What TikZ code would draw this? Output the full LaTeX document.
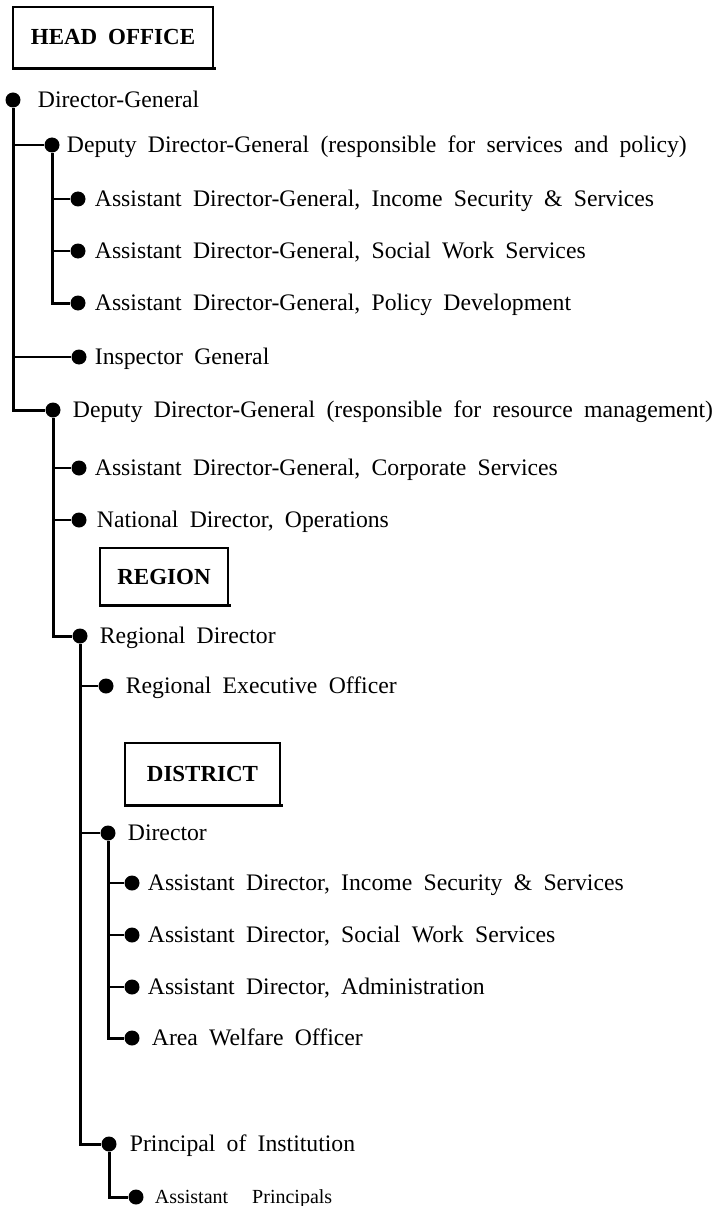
\documentclass[tikz,border=0pt]{standalone}
\usepackage{fontspec}
\setmainfont{Liberation Serif}[WordSpace=1.9]
\usetikzlibrary{positioning}

\begin{document}
\begin{tikzpicture}[x=1pt, y=-1pt,
  every node/.style={inner sep=0pt},
  dot/.style={circle, fill, minimum size=15pt},
  post/.style={anchor=west, font=\fontsize{23.7}{28}\selectfont, text height=15.7pt, text depth=0pt},
  unit/.style={draw, line width=1.4pt, font=\fontsize{23}{27}\selectfont\bfseries},
  unitfoot/.style={line width=2.6pt},
  trunk/.style={line width=3pt},
  branch/.style={line width=2pt}]

\useasboundingbox (0,0) rectangle (727,1206);

% head office
\node[unit, minimum width=200pt, minimum height=61pt] (ho) at (113,37.5) {HEAD OFFICE};
\draw[unitfoot] (ho.south west) -- ([xshift=2pt]ho.south east);

\node[dot] (dg) at (13,100) {};
\node[post, right=17pt of dg] (dgt) {Director-General};

\node[dot] (ddg1) at (52,145) {};
\node[post, right=7pt of ddg1] (ddg1t) {Deputy Director-General (responsible for services and policy)};

\node[dot] (adg1) at (78,199) {};
\node[post, right=9pt of adg1] (adg1t) {Assistant Director-General, Income Security \& Services};
\node[dot] (adg2) at (78,251) {};
\node[post, right=9pt of adg2] (adg2t) {Assistant Director-General, Social Work Services};
\node[dot] (adg3) at (78,303) {};
\node[post, right=9pt of adg3] (adg3t) {Assistant Director-General, Policy Development};

\node[dot] (insp) at (79,357) {};
\node[post, right=8pt of insp] (inspt) {Inspector General};

\node[dot] (ddg2) at (53,410) {};
\node[post, right=12pt of ddg2] (ddg2t) {Deputy Director-General (responsible for resource management)};

\node[dot] (adg4) at (79,468) {};
\node[post, right=8pt of adg4] (adg4t) {Assistant Director-General, Corporate Services};
\node[dot] (natdir) at (79,520) {};
\node[post, right=10pt of natdir] (natdirt) {National Director, Operations};

% region
\node[unit, minimum width=128pt, minimum height=57pt] (reg) at (164,576.5) {REGION};
\draw[unitfoot] (reg.south west) -- ([xshift=2pt]reg.south east);

\node[dot] (regdir) at (80,636) {};
\node[post, right=12pt of regdir] (regdirt) {Regional Director};
\node[dot] (reo) at (106,686) {};
\node[post, right=12pt of reo] (reot) {Regional Executive Officer};

% district
\node[unit, minimum width=155pt, minimum height=62pt] (dist) at (202.5,774) {DISTRICT};
\draw[unitfoot] (dist.south west) -- ([xshift=2pt]dist.south east);

\node[dot] (dir) at (108,833) {};
\node[post, right=12pt of dir] (dirt) {Director};

\node[dot] (ad1) at (132,883) {};
\node[post, right=8pt of ad1] (ad1t) {Assistant Director, Income Security \& Services};
\node[dot] (ad2) at (132,935) {};
\node[post, right=8pt of ad2] (ad2t) {Assistant Director, Social Work Services};
\node[dot] (ad3) at (132,987) {};
\node[post, right=8pt of ad3] (ad3t) {Assistant Director, Administration};
\node[dot] (awo) at (132,1038) {};
\node[post, right=12pt of awo] (awot) {Area Welfare Officer};

\node[dot] (princ) at (109,1144) {};
\node[post, right=13pt of princ] (princt) {Principal of Institution};
\node[dot] (aprinc) at (136,1197) {};
\node[post, font=\fontsize{20}{24}\selectfont, text height=13.2pt, right=11pt of aprinc] (aprinct) {Assistant\hskip 1.2em Principals};

% lines
\draw[trunk] (dg) |- (ddg2);
\draw[branch] (dg |- ddg1) -- (ddg1);
\draw[branch] (dg |- insp) -- (insp);

\draw[trunk] (ddg1) |- (adg3);
\draw[branch] (ddg1 |- adg1) -- (adg1);
\draw[branch] (ddg1 |- adg2) -- (adg2);

\draw[trunk] (ddg2) |- (regdir);
\draw[branch] (ddg2 |- adg4) -- (adg4);
\draw[branch] (ddg2 |- natdir) -- (natdir);

\draw[trunk] (regdir) |- (princ);
\draw[branch] (regdir |- reo) -- (reo);
\draw[branch] (regdir |- dir) -- (dir);

\draw[trunk] (dir) |- (awo);
\draw[branch] (dir |- ad1) -- (ad1);
\draw[branch] (dir |- ad2) -- (ad2);
\draw[branch] (dir |- ad3) -- (ad3);

\draw[trunk] (princ) |- (aprinc);

\end{tikzpicture}
\end{document}
